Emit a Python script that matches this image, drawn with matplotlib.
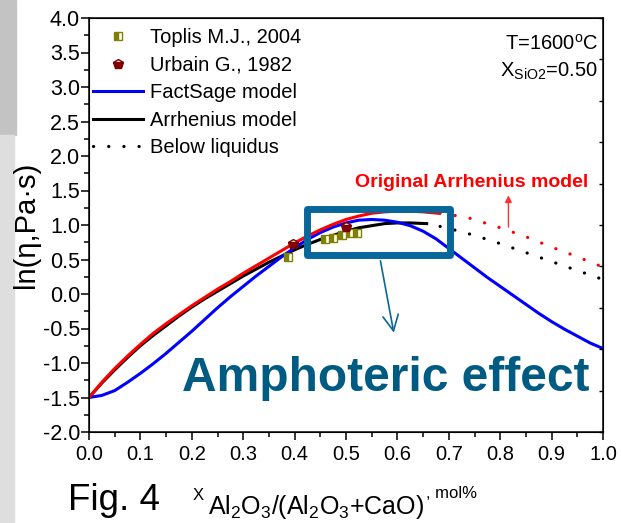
import numpy as np
import matplotlib
matplotlib.use('Agg')
import matplotlib.pyplot as plt
from matplotlib.patches import Rectangle
from matplotlib.lines import Line2D

plt.rcParams['font.family'] = ['Liberation Sans', 'DejaVu Sans']
plt.rcParams['mathtext.fontset'] = 'custom'
plt.rcParams['mathtext.rm'] = 'Liberation Sans'
plt.rcParams['mathtext.it'] = 'Liberation Sans:italic'
plt.rcParams['mathtext.bf'] = 'Liberation Sans:bold'

# FactSage 계산값
fact_x = [0.0, 0.025, 0.05, 0.075, 0.1, 0.125, 0.15, 0.175, 0.2, 0.225, 0.25,
          0.275, 0.3, 0.325, 0.35, 0.375, 0.4, 0.425, 0.45, 0.475, 0.5, 0.525,
          0.55, 0.575, 0.6, 0.625, 0.65, 0.675, 0.7, 0.725, 0.75, 0.775, 0.8,
          0.825, 0.85, 0.875, 0.9, 0.925, 0.95, 0.975, 1.0]
fact_y = [-1.50, -1.47, -1.40, -1.28, -1.15, -1.01, -0.86, -0.70, -0.54, -0.37,
          -0.20, -0.04, 0.11, 0.26, 0.40, 0.54, 0.67, 0.79, 0.89, 0.97, 1.03,
          1.07, 1.08, 1.07, 1.04, 0.99, 0.91, 0.80, 0.66, 0.52, 0.38, 0.24,
          0.11, -0.02, -0.15, -0.28, -0.40, -0.51, -0.61, -0.71, -0.79]

# Arrhenius 모델 (액상선 위)
arr_x = [0.0, 0.025, 0.05, 0.075, 0.1, 0.125, 0.15, 0.175, 0.2, 0.225, 0.25,
         0.275, 0.3, 0.325, 0.35, 0.375, 0.4, 0.425, 0.45, 0.475, 0.5, 0.525,
         0.55, 0.575, 0.6, 0.625, 0.657]
arr_y = [-1.50, -1.29, -1.10, -0.92, -0.75, -0.60, -0.46, -0.32, -0.19, -0.07,
         0.04, 0.15, 0.26, 0.36, 0.46, 0.55, 0.64, 0.72, 0.79, 0.85, 0.91,
         0.96, 0.99, 1.02, 1.03, 1.03, 1.02]
# Arrhenius 모델 (액상선 아래)
arr_low_x = [0.683, 0.70, 0.75, 0.80, 0.85, 0.90, 0.95, 1.0]
arr_low_y = [0.98, 0.95, 0.85, 0.73, 0.60, 0.47, 0.34, 0.21]

# 원래 Arrhenius 모델
orig_x = [0.0, 0.025, 0.05, 0.075, 0.1, 0.125, 0.15, 0.175, 0.2, 0.225, 0.25,
          0.275, 0.3, 0.325, 0.35, 0.375, 0.4, 0.425, 0.45, 0.475, 0.5, 0.525,
          0.55, 0.575, 0.6, 0.625, 0.65, 0.68]
orig_y = [-1.50, -1.28, -1.08, -0.90, -0.73, -0.57, -0.43, -0.30, -0.17, -0.05,
          0.07, 0.18, 0.30, 0.41, 0.52, 0.63, 0.74, 0.84, 0.93, 1.01, 1.08,
          1.13, 1.17, 1.19, 1.20, 1.20, 1.19, 1.17]
orig_low_x = [0.683, 0.71, 0.74, 0.77, 0.80, 0.85, 0.90, 0.95, 1.0]
orig_low_y = [1.17, 1.14, 1.10, 1.03, 0.96, 0.83, 0.68, 0.54, 0.39]

# 실험값
toplis_x = [0.388, 0.459, 0.475, 0.492, 0.506, 0.522]
toplis_y = [0.54, 0.80, 0.81, 0.85, 0.88, 0.89]
urbain_x = [0.397, 0.500]
urbain_y = [0.72, 0.97]

fig = plt.figure(figsize=(6.21, 5.23), dpi=100)
fig.patches.append(Rectangle((0, 1 - 135/523), 16/621, 135/523, transform=fig.transFigure,
                             color='#c3c3c3', zorder=-1))
fig.patches.append(Rectangle((0, 0), 14/621, 1 - 135/523, transform=fig.transFigure,
                             color='#dedede', zorder=-1))

ax = fig.add_axes([89/621, 1 - 432/523, 514/621, 414/523])

dots = (0, (0.05, 4.7))
ax.plot(arr_x, arr_y, color='black', lw=2.2, zorder=3)
ax.plot(fact_x, fact_y, color='#0000ff', lw=2.2, zorder=3)
ax.plot(orig_x, orig_y, color='#ff0000', lw=2.2, zorder=4)
ax.plot(arr_low_x, arr_low_y, color='black', lw=2.3, ls=dots, dash_capstyle='round')
ax.plot(orig_low_x, orig_low_y, color='#ff0000', lw=2.3, ls=dots, dash_capstyle='round')

ax.plot(toplis_x, toplis_y, ls='none', marker='s', ms=6, color='#808000',
        fillstyle='left', markerfacecoloralt='white', mew=1, zorder=5)
ax.plot(urbain_x, urbain_y, ls='none', marker='p', ms=7, color='#800000',
        fillstyle='bottom', markerfacecoloralt='white', mew=1, zorder=5)

# 양쪽성 효과 영역 표시
box_color = '#08679a'
ax.add_patch(Rectangle((0.425, 0.572), 0.277, 0.653, fill=False, ec=box_color,
                       lw=5, joinstyle='round', zorder=6))
ax.annotate('', xy=(0.594, -0.60), xytext=(0.566, 0.52),
            arrowprops=dict(arrowstyle='->', color=box_color, lw=1.2, mutation_scale=28),
            zorder=6)
ax.text(0.578, -1.22, 'Amphoteric effect', color='#005b82', fontsize=34.5,
        fontweight='bold', ha='center', va='center', zorder=7)

ax.text(0.745, 1.62, 'Original Arrhenius model', color='#ff0000', fontsize=14,
        fontweight='bold', ha='center', va='center')
ax.annotate('', xy=(0.816, 1.47), xytext=(0.816, 0.93),
            arrowprops=dict(arrowstyle='-|>', color='#ff3030', lw=1, mutation_scale=10))

ax.text(0.990, 0.937, r'T=1600$^\mathregular{o}$C', transform=ax.transAxes,
        fontsize=14.5, ha='right', va='center')
ax.text(0.990, 0.870, r'X$_\mathregular{SiO2}$=0.50', transform=ax.transAxes,
        fontsize=14.5, ha='right', va='center')

# 범례
handles = [
    Line2D([], [], ls='none', marker='s', ms=6, color='#808000', fillstyle='left',
           markerfacecoloralt='white'),
    Line2D([], [], ls='none', marker='p', ms=7, color='#800000', fillstyle='bottom',
           markerfacecoloralt='white'),
    Line2D([], [], color='#0000ff', lw=2.2),
    Line2D([], [], color='black', lw=2.2),
    Line2D([], [], color='black', lw=2.3, ls=dots, dash_capstyle='round'),
]
labels = ['Toplis M.J., 2004', 'Urbain G., 1982', 'FactSage model',
          'Arrhenius model', 'Below liquidus']
ax.legend(handles, labels, loc='upper left', bbox_to_anchor=(0.008, 0.975),
          frameon=False, fontsize=14.5, handlelength=2.5, handletextpad=0.3,
          labelspacing=0.42, borderpad=0, borderaxespad=0, numpoints=1)

ax.set_xlim(0, 1)
ax.set_ylim(-2, 4)
ax.set_xticks(np.arange(0, 1.01, 0.1))
ax.set_xticks(np.arange(0, 1.01, 0.05), minor=True)
ax.set_yticks(np.arange(-2, 4.01, 0.5))
ax.set_yticks(np.arange(-2, 4.01, 0.25), minor=True)
ax.xaxis.set_major_formatter(matplotlib.ticker.FormatStrFormatter('%.1f'))
ax.yaxis.set_major_formatter(matplotlib.ticker.FormatStrFormatter('%.1f'))
ax.tick_params(which='major', direction='out', length=6, width=1.1, top=False, right=False)
ax.tick_params(which='minor', direction='out', length=3.5, width=1.1, top=False, right=False)
ax.tick_params(axis='x', labelsize=14.5)
ax.tick_params(axis='y', labelsize=15.5, pad=0.5)
for s in ax.spines.values():
    s.set_linewidth(1.1)

# 오른쪽 보조 눈금
ax2 = ax.twinx()
ax2.set_ylim(0, 1)
ax2.set_yticks(np.linspace(0, 1, 11))
ax2.tick_params(direction='in', length=3, width=1, labelright=False)

ax.set_ylabel('ln(\u03b7,Pa\u00b7s)', fontsize=21, labelpad=2)

# 그림 번호와 x축 제목
fig.text(68/621, 1 - 500/523, 'Fig. 4', fontsize=26.5, va='center')
fig.text(193/621, 1 - 495/523, 'X', fontsize=12, va='center')
sub = fig.text(208/621, 1 - 507/523, r'$\mathregular{Al_2O_3/(Al_2O_3{+}CaO)}$',
               fontsize=18, va='center')
fig.canvas.draw()
bb = sub.get_window_extent()
fig.text((bb.x1 + 2) / 621, 1 - 494/523, ', mol%', fontsize=12, va='center')

fig.savefig('out.png', dpi=100)
